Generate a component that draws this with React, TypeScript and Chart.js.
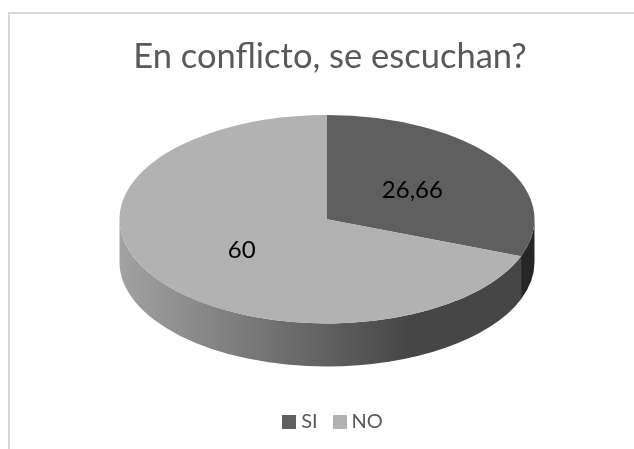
import React, { useEffect, useRef } from "react";
import { Chart, registerables } from "chart.js";

Chart.register(...registerables);

const titleText = "En conflicto, se escuchan?";
const categories = ["SI", "NO"];
const values = [26.66, 60];
const topColors = ["#5f5f5f", "#b2b2b2"];
const wallLeftColors = ["#262626", "#a2a2a2"];
const wallRightColors = ["#262626", "#464646"];

const TILT = 0.5024;
const DEPTH = 43;
const RADIUS = 207.5;

function swatch(color: string) {
  const c = document.createElement("canvas");
  c.width = 14;
  c.height = 14;
  const g = c.getContext("2d")!;
  g.fillStyle = color;
  g.fillRect(0, 0, 14, 14);
  return c;
}

const pie3d = {
  id: "pie3d",
  afterLayout(chart: any) {
    chart.titleBlock.left += 3;
    chart.titleBlock.right += 3;
    chart.legend.left += 8;
    chart.legend.right += 8;
  },
  beforeDatasetDraw(chart: any, args: any) {
    const ctx = chart.ctx;
    const arcs = args.meta.data;
    const cx = arcs[0].x;
    const cy = arcs[0].y;
    const r = arcs[0].outerRadius;
    arcs.forEach((arc: any, i: number) => {
      const a = Math.max(arc.startAngle, 0);
      const b = Math.min(arc.endAngle, Math.PI);
      if (b <= a) return;
      const g = ctx.createLinearGradient(cx - r, 0, cx + r * 0.4, 0);
      g.addColorStop(0, wallLeftColors[i]);
      g.addColorStop(1, wallRightColors[i]);
      ctx.beginPath();
      ctx.ellipse(cx, cy, r, r * TILT, 0, a, b);
      ctx.ellipse(cx, cy + DEPTH, r, r * TILT, 0, b, a, true);
      ctx.closePath();
      ctx.fillStyle = g;
      ctx.fill();
    });
    ctx.save();
    ctx.translate(cx, cy);
    ctx.scale(1, TILT);
    ctx.translate(-cx, -cy);
  },
  afterDatasetDraw(chart: any, args: any) {
    const ctx = chart.ctx;
    ctx.restore();
    const arcs = args.meta.data;
    const cy = arcs[0].y;
    ctx.save();
    ctx.font = "24px Lato";
    ctx.fillStyle = "#000000";
    ctx.textAlign = "center";
    ctx.textBaseline = "middle";
    arcs.forEach((arc: any, i: number) => {
      const p = arc.getCenterPoint();
      ctx.fillText(String(values[i]).replace(".", ","), p.x, cy + (p.y - cy) * TILT + 1);
    });
    ctx.restore();
  },
};

export default function App() {
  const ref = useRef<HTMLCanvasElement>(null);
  useEffect(() => {
    const chart = new Chart(ref.current!, {
      type: "pie",
      data: {
        labels: categories,
        datasets: [
          {
            data: values,
            backgroundColor: topColors,
            borderWidth: 0,
            radius: RADIUS,
            clip: false,
          } as any,
        ],
      },
      options: {
        responsive: false,
        animation: false,
        layout: { padding: { left: 20, bottom: 7 } },
        plugins: {
          tooltip: { enabled: false },
          title: {
            display: true,
            text: titleText,
            color: "#595959",
            font: { family: "Lato", size: 34.5, weight: "normal" },
            padding: { top: 36, bottom: -31 },
          },
          legend: {
            position: "bottom",
            labels: {
              color: "#595959",
              font: { family: "Lato", size: 20 },
              usePointStyle: true,
              pointStyleWidth: 4,
              padding: 20,
              generateLabels(c: any) {
                return (Chart as any).overrides.doughnut.plugins.legend.labels
                  .generateLabels(c)
                  .map((it: any, i: number) => ({ ...it, pointStyle: swatch(topColors[i]) }));
              },
            },
          },
        },
      },
      plugins: [pie3d],
    } as any);
    return () => chart.destroy();
  }, []);
  return (
    <div style={{ position: "fixed", left: 0, top: 0, width: 634, height: 449, background: "#ffffff" }}>
      <div
        style={{
          position: "absolute",
          left: 8,
          top: 12,
          right: 0,
          bottom: 0,
          borderTop: "2px solid #d9d9d9",
          borderLeft: "2px solid #d9d9d9",
        }}
      />
      <canvas ref={ref} width={634} height={449} style={{ position: "absolute", left: 0, top: 0, display: "block" }} />
    </div>
  );
}
